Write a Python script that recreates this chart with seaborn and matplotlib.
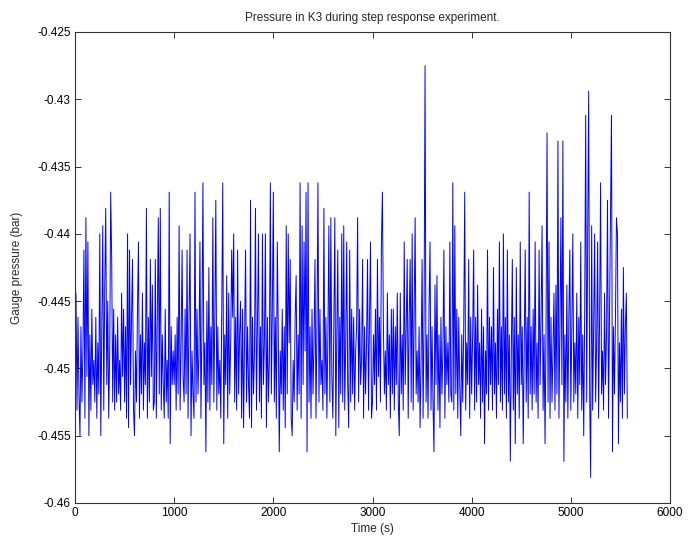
import numpy as np
import matplotlib
matplotlib.use("Agg")
import matplotlib.pyplot as plt
import seaborn as sns
from matplotlib.ticker import FormatStrFormatter, FixedLocator

sns.set_style("white")
plt.rcParams['font.family'] = ['Liberation Sans', 'DejaVu Sans']
plt.rcParams['axes.unicode_minus'] = False

title = "Pressure in K3 during step response experiment."
x_label = "Time (s)"
y_label = "Gauge pressure (bar)"
x_ticks = [0, 1000, 2000, 3000, 4000, 5000, 6000]
y_ticks = [-0.46, -0.455, -0.45, -0.445, -0.44, -0.435, -0.43, -0.425]
sample_period = 10  # seconds between samples

pressure = [
    -0.4500, -0.4444, -0.4531, -0.4462, -0.4519, -0.4550, -0.4469, -0.4525, -0.4487, -0.4412,
    -0.4537, -0.4388, -0.4506, -0.4406, -0.4550, -0.4475, -0.4531, -0.4456, -0.4512, -0.4494,
    -0.4525, -0.4462, -0.4537, -0.4481, -0.4519, -0.4400, -0.4550, -0.4469, -0.4394, -0.4531,
    -0.4438, -0.4381, -0.4512, -0.4450, -0.4537, -0.4487, -0.4369, -0.4419, -0.4525, -0.4456,
    -0.4531, -0.4475, -0.4525, -0.4462, -0.4519, -0.4494, -0.4531, -0.4444, -0.4506, -0.4456,
    -0.4525, -0.4469, -0.4537, -0.4400, -0.4544, -0.4412, -0.4512, -0.4462, -0.4419, -0.4531,
    -0.4550, -0.4487, -0.4525, -0.4456, -0.4406, -0.4537, -0.4475, -0.4519, -0.4444, -0.4531,
    -0.4481, -0.4512, -0.4381, -0.4537, -0.4462, -0.4525, -0.4419, -0.4506, -0.4438, -0.4531,
    -0.4525, -0.4419, -0.4537, -0.4462, -0.4388, -0.4519, -0.4381, -0.4531, -0.4475, -0.4512,
    -0.4537, -0.4456, -0.4525, -0.4494, -0.4537, -0.4369, -0.4556, -0.4469, -0.4512, -0.4487,
    -0.4512, -0.4475, -0.4531, -0.4462, -0.4519, -0.4394, -0.4531, -0.4481, -0.4412, -0.4506,
    -0.4525, -0.4456, -0.4519, -0.4412, -0.4537, -0.4462, -0.4400, -0.4550, -0.4487, -0.4519,
    -0.4537, -0.4369, -0.4525, -0.4456, -0.4519, -0.4487, -0.4406, -0.4537, -0.4469, -0.4362,
    -0.4512, -0.4481, -0.4562, -0.4450, -0.4525, -0.4425, -0.4531, -0.4469, -0.4512, -0.4388,
    -0.4525, -0.4462, -0.4375, -0.4531, -0.4469, -0.4519, -0.4494, -0.4537, -0.4456, -0.4362,
    -0.4556, -0.4475, -0.4512, -0.4431, -0.4537, -0.4444, -0.4519, -0.4481, -0.4412, -0.4462,
    -0.4400, -0.4525, -0.4462, -0.4531, -0.4412, -0.4519, -0.4475, -0.4450, -0.4537, -0.4456,
    -0.4544, -0.4481, -0.4412, -0.4525, -0.4469, -0.4512, -0.4537, -0.4375, -0.4544, -0.4462,
    -0.4519, -0.4487, -0.4381, -0.4531, -0.4462, -0.4400, -0.4525, -0.4469, -0.4537, -0.4400,
    -0.4512, -0.4481, -0.4400, -0.4544, -0.4462, -0.4525, -0.4494, -0.4362, -0.4519, -0.4456,
    -0.4369, -0.4525, -0.4462, -0.4537, -0.4406, -0.4475, -0.4562, -0.4487, -0.4519, -0.4456,
    -0.4531, -0.4469, -0.4544, -0.4394, -0.4519, -0.4400, -0.4481, -0.4419, -0.4537, -0.4550,
    -0.4494, -0.4525, -0.4462, -0.4431, -0.4531, -0.4475, -0.4519, -0.4362, -0.4537, -0.4394,
    -0.4512, -0.4406, -0.4487, -0.4369, -0.4562, -0.4362, -0.4525, -0.4469, -0.4537, -0.4456,
    -0.4519, -0.4481, -0.4419, -0.4537, -0.4469, -0.4362, -0.4525, -0.4456, -0.4512, -0.4494,
    -0.4531, -0.4381, -0.4519, -0.4462, -0.4537, -0.4475, -0.4394, -0.4525, -0.4388, -0.4506,
    -0.4537, -0.4469, -0.4388, -0.4550, -0.4475, -0.4412, -0.4544, -0.4462, -0.4519, -0.4400,
    -0.4525, -0.4394, -0.4531, -0.4481, -0.4406, -0.4512, -0.4544, -0.4412, -0.4525, -0.4456,
    -0.4519, -0.4462, -0.4531, -0.4487, -0.4469, -0.4388, -0.4525, -0.4456, -0.4512, -0.4494,
    -0.4419, -0.4537, -0.4469, -0.4519, -0.4481, -0.4419, -0.4531, -0.4462, -0.4406, -0.4537,
    -0.4525, -0.4475, -0.4512, -0.4456, -0.4531, -0.4419, -0.4506, -0.4462, -0.4525, -0.4406,
    -0.4369, -0.4469, -0.4519, -0.4487, -0.4531, -0.4444, -0.4512, -0.4475, -0.4537, -0.4456,
    -0.4519, -0.4456, -0.4531, -0.4469, -0.4512, -0.4444, -0.4525, -0.4550, -0.4444, -0.4519,
    -0.4475, -0.4531, -0.4406, -0.4512, -0.4469, -0.4419, -0.4537, -0.4462, -0.4419, -0.4525,
    -0.4400, -0.4531, -0.4462, -0.4388, -0.4519, -0.4487, -0.4525, -0.4469, -0.4544, -0.4494,
    -0.4419, -0.4537, -0.4462, -0.4275, -0.4525, -0.4475, -0.4537, -0.4456, -0.4406, -0.4531,
    -0.4469, -0.4525, -0.4562, -0.4438, -0.4512, -0.4431, -0.4531, -0.4475, -0.4544, -0.4462,
    -0.4519, -0.4487, -0.4412, -0.4537, -0.4469, -0.4512, -0.4481, -0.4525, -0.4406, -0.4519,
    -0.4525, -0.4362, -0.4531, -0.4394, -0.4519, -0.4456, -0.4537, -0.4462, -0.4512, -0.4550,
    -0.4475, -0.4525, -0.4469, -0.4369, -0.4531, -0.4481, -0.4512, -0.4419, -0.4537, -0.4462,
    -0.4519, -0.4475, -0.4412, -0.4531, -0.4462, -0.4525, -0.4438, -0.4512, -0.4481, -0.4537,
    -0.4456, -0.4525, -0.4469, -0.4556, -0.4487, -0.4519, -0.4412, -0.4531, -0.4462, -0.4512,
    -0.4469, -0.4531, -0.4425, -0.4519, -0.4481, -0.4537, -0.4456, -0.4512, -0.4406, -0.4525,
    -0.4469, -0.4531, -0.4400, -0.4519, -0.4462, -0.4537, -0.4412, -0.4525, -0.4475, -0.4569,
    -0.4487, -0.4419, -0.4531, -0.4462, -0.4556, -0.4425, -0.4519, -0.4475, -0.4537, -0.4406,
    -0.4512, -0.4469, -0.4556, -0.4481, -0.4412, -0.4525, -0.4462, -0.4537, -0.4369, -0.4519,
    -0.4469, -0.4531, -0.4456, -0.4519, -0.4406, -0.4525, -0.4481, -0.4537, -0.4412, -0.4512,
    -0.4462, -0.4394, -0.4531, -0.4475, -0.4556, -0.4469, -0.4325, -0.4525, -0.4406, -0.4537,
    -0.4462, -0.4525, -0.4487, -0.4444, -0.4531, -0.4438, -0.4519, -0.4331, -0.4537, -0.4469,
    -0.4388, -0.4512, -0.4331, -0.4569, -0.4475, -0.4525, -0.4438, -0.4537, -0.4462, -0.4412,
    -0.4531, -0.4469, -0.4400, -0.4525, -0.4481, -0.4519, -0.4444, -0.4537, -0.4462, -0.4512,
    -0.4406, -0.4531, -0.4475, -0.4550, -0.4456, -0.4312, -0.4525, -0.4400, -0.4294, -0.4519,
    -0.4581, -0.4394, -0.4531, -0.4469, -0.4400, -0.4525, -0.4481, -0.4406, -0.4537, -0.4462,
    -0.4362, -0.4519, -0.4487, -0.4531, -0.4444, -0.4512, -0.4475, -0.4375, -0.4537, -0.4462,
    -0.4388, -0.4312, -0.4562, -0.4469, -0.4519, -0.4462, -0.4388, -0.4400, -0.4556, -0.4481,
    -0.4525, -0.4456, -0.4537, -0.4425, -0.4519, -0.4469, -0.4444, -0.4537,
]

time = np.arange(len(pressure)) * sample_period

fig = plt.figure(figsize=(6.89, 5.45), dpi=100)
ax = fig.add_axes([75 / 689, 1 - 503 / 545, (670 - 75) / 689, (503 - 32) / 545])

sns.lineplot(x=time, y=pressure, ax=ax, color=(0, 0, 1), linewidth=0.7,
             estimator=None, sort=False)

ax.set_xlim(0, 6000)
ax.set_ylim(-0.46, -0.425)
ax.xaxis.set_major_locator(FixedLocator(x_ticks))
ax.yaxis.set_major_locator(FixedLocator(y_ticks))
ax.yaxis.set_major_formatter(FormatStrFormatter('%g'))
ax.xaxis.set_major_formatter(FormatStrFormatter('%g'))

for s in ax.spines.values():
    s.set_visible(True)
    s.set_color('#333333')
    s.set_linewidth(0.8)

ax.tick_params(direction='in', length=4.5, width=0.7, colors='#333333',
               labelcolor='black', labelsize=8.5, top=True, right=True,
               bottom=True, left=True, pad=3)

ax.set_title(title, fontsize=8.5, pad=8)
ax.set_xlabel(x_label, fontsize=8.5, labelpad=3)
ax.set_ylabel(y_label, fontsize=8.5, labelpad=10)
ax.grid(False)

fig.savefig("out.png", dpi=100, facecolor='white')
